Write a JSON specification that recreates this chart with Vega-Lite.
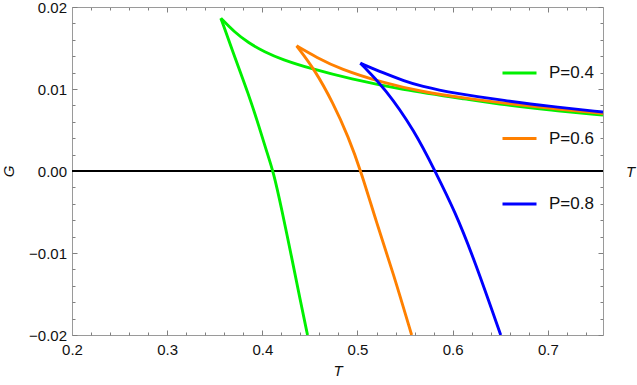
{
  "$schema": "https://vega.github.io/schema/vega-lite/v6.json",
  "width": 531,
  "height": 328,
  "autosize": {"type": "none"},
  "padding": {"left": 72, "top": 7, "right": 34, "bottom": 50},
  "background": "white",
  "config": {
    "view": {"stroke": null},
    "axis": {
      "grid": false,
      "zindex": 1,
      "domainColor": "#9a9a9a",
      "tickColor": "#808080",
      "tickWidth": 1,
      "labelFont": "Liberation Sans",
      "labelFontSize": 15,
      "labelColor": "#111111",
      "titleFont": "Liberation Sans",
      "titleFontSize": 15,
      "titleFontWeight": "normal",
      "titleFontStyle": "italic",
      "titleColor": "#111111"
    }
  },
  "data": {
    "values": [
      {"P": "P=0.4", "b": "lo", "T": 0.3564, "G": 0.01864},
      {"P": "P=0.4", "b": "lo", "T": 0.3721, "G": 0.01356},
      {"P": "P=0.4", "b": "lo", "T": 0.3851, "G": 0.0095},
      {"P": "P=0.4", "b": "lo", "T": 0.3966, "G": 0.00543},
      {"P": "P=0.4", "b": "lo", "T": 0.405, "G": 0.00219},
      {"P": "P=0.4", "b": "lo", "T": 0.4114, "G": 0.0},
      {"P": "P=0.4", "b": "lo", "T": 0.4205, "G": -0.00471},
      {"P": "P=0.4", "b": "lo", "T": 0.4313, "G": -0.0108},
      {"P": "P=0.4", "b": "lo", "T": 0.4397, "G": -0.01568},
      {"P": "P=0.4", "b": "lo", "T": 0.4475, "G": -0.02},
      {"P": "P=0.4", "b": "hi", "T": 0.3564, "G": 0.01864},
      {"P": "P=0.4", "b": "hi", "T": 0.3711, "G": 0.0169},
      {"P": "P=0.4", "b": "hi", "T": 0.3851, "G": 0.01565},
      {"P": "P=0.4", "b": "hi", "T": 0.4026, "G": 0.0145},
      {"P": "P=0.4", "b": "hi", "T": 0.4202, "G": 0.01362},
      {"P": "P=0.4", "b": "hi", "T": 0.4534, "G": 0.0124},
      {"P": "P=0.4", "b": "hi", "T": 0.492, "G": 0.01125},
      {"P": "P=0.4", "b": "hi", "T": 0.5446, "G": 0.00995},
      {"P": "P=0.4", "b": "hi", "T": 0.6182, "G": 0.0087},
      {"P": "P=0.4", "b": "hi", "T": 0.655, "G": 0.00806},
      {"P": "P=0.4", "b": "hi", "T": 0.7023, "G": 0.00743},
      {"P": "P=0.4", "b": "hi", "T": 0.758, "G": 0.00682},
      {"P": "P=0.6", "b": "lo", "T": 0.436, "G": 0.01526},
      {"P": "P=0.6", "b": "lo", "T": 0.4552, "G": 0.01234},
      {"P": "P=0.6", "b": "lo", "T": 0.4744, "G": 0.00828},
      {"P": "P=0.6", "b": "lo", "T": 0.4904, "G": 0.00418},
      {"P": "P=0.6", "b": "lo", "T": 0.5036, "G": 0.0},
      {"P": "P=0.6", "b": "lo", "T": 0.5201, "G": -0.00633},
      {"P": "P=0.6", "b": "lo", "T": 0.5375, "G": -0.01242},
      {"P": "P=0.6", "b": "lo", "T": 0.5569, "G": -0.02},
      {"P": "P=0.6", "b": "hi", "T": 0.436, "G": 0.01526},
      {"P": "P=0.6", "b": "hi", "T": 0.457, "G": 0.01385},
      {"P": "P=0.6", "b": "hi", "T": 0.4815, "G": 0.01245},
      {"P": "P=0.6", "b": "hi", "T": 0.527, "G": 0.01075},
      {"P": "P=0.6", "b": "hi", "T": 0.5656, "G": 0.0097},
      {"P": "P=0.6", "b": "hi", "T": 0.6182, "G": 0.0088},
      {"P": "P=0.6", "b": "hi", "T": 0.655, "G": 0.00826},
      {"P": "P=0.6", "b": "hi", "T": 0.7023, "G": 0.00763},
      {"P": "P=0.6", "b": "hi", "T": 0.758, "G": 0.00702},
      {"P": "P=0.8", "b": "lo", "T": 0.503, "G": 0.01315},
      {"P": "P=0.8", "b": "lo", "T": 0.5288, "G": 0.01011},
      {"P": "P=0.8", "b": "lo", "T": 0.5604, "G": 0.00482},
      {"P": "P=0.8", "b": "lo", "T": 0.5814, "G": 0.0},
      {"P": "P=0.8", "b": "lo", "T": 0.6024, "G": -0.00492},
      {"P": "P=0.8", "b": "lo", "T": 0.6234, "G": -0.01101},
      {"P": "P=0.8", "b": "lo", "T": 0.6505, "G": -0.02},
      {"P": "P=0.8", "b": "hi", "T": 0.503, "G": 0.01315},
      {"P": "P=0.8", "b": "hi", "T": 0.527, "G": 0.01196},
      {"P": "P=0.8", "b": "hi", "T": 0.5498, "G": 0.01096},
      {"P": "P=0.8", "b": "hi", "T": 0.5656, "G": 0.01038},
      {"P": "P=0.8", "b": "hi", "T": 0.6024, "G": 0.00945},
      {"P": "P=0.8", "b": "hi", "T": 0.655, "G": 0.00858},
      {"P": "P=0.8", "b": "hi", "T": 0.7023, "G": 0.00787},
      {"P": "P=0.8", "b": "hi", "T": 0.758, "G": 0.00719}
    ]
  },
  "layer": [
    {
      "mark": {"type": "rule", "color": "black", "strokeWidth": 1},
      "encoding": {
        "y": {"datum": 0, "type": "quantitative", "scale": {"domain": [-0.02, 0.02], "nice": false, "zero": false}, "axis": null}
      }
    },
    {
      "mark": {"type": "line", "strokeWidth": 2.9, "interpolate": "basis", "clip": true},
      "encoding": {
        "x": {
          "field": "T", "type": "quantitative",
          "scale": {"domain": [0.2, 0.758], "nice": false, "zero": false},
          "axis": {
            "orient": "bottom",
            "values": [0.2, 0.3, 0.4, 0.5, 0.6, 0.7],
            "format": ".1f",
            "ticks": false,
            "labelPadding": 7.5,
            "labelFlush": false,
            "labelOverlap": false,
            "title": "T",
            "titleY": 40,
            "titleBaseline": "alphabetic"
          }
        },
        "y": {
          "field": "G", "type": "quantitative",
          "scale": {"domain": [-0.02, 0.02], "nice": false, "zero": false},
          "axis": {
            "orient": "left",
            "values": [-0.02, -0.01, 0, 0.01, 0.02],
            "format": ".2f",
            "ticks": false,
            "labelPadding": 5.5,
            "labelFlush": false,
            "labelOverlap": false,
            "title": "G",
            "titleAngle": -90,
            "titleX": -59,
            "titleY": 164,
            "titleAlign": "center",
            "titleBaseline": "alphabetic"
          }
        },
        "color": {
          "field": "P", "type": "nominal",
          "scale": {"domain": ["P=0.4", "P=0.6", "P=0.8"], "range": ["#00f000", "#ff8000", "#0000ff"]},
          "legend": {
            "orient": "none",
            "legendX": 429,
            "legendY": 56,
            "title": null,
            "padding": 0,
            "symbolType": "stroke",
            "symbolSize": 1156,
            "symbolStrokeWidth": 3,
            "labelFont": "Liberation Sans",
            "labelFontSize": 17,
            "labelColor": "#111111",
            "labelOffset": 11,
            "clipHeight": 20,
            "rowPadding": 45.5
          }
        },
        "detail": {"field": "b"}
      }
    },
    {
      "mark": {"type": "point", "opacity": 0},
      "encoding": {
        "x": {
          "field": "T", "type": "quantitative",
          "axis": {"orient": "bottom", "values": [0.2, 0.3, 0.4, 0.5, 0.6, 0.7], "labels": false, "domain": false, "ticks": true, "tickSize": -5, "title": null}
        },
        "y": {
          "field": "G", "type": "quantitative",
          "axis": {"orient": "left", "values": [-0.02, -0.01, 0, 0.01, 0.02], "labels": false, "domain": false, "ticks": true, "tickSize": -5, "title": null}
        }
      }
    },
    {
      "mark": {"type": "point", "opacity": 0},
      "encoding": {
        "x": {
          "field": "T", "type": "quantitative",
          "axis": {"orient": "bottom", "values": [0.22,0.24,0.26,0.28,0.32,0.34,0.36,0.38,0.42,0.44,0.46,0.48,0.52,0.54,0.56,0.58,0.62,0.64,0.66,0.68,0.72,0.74], "labels": false, "domain": false, "ticks": true, "tickSize": -3, "title": null}
        },
        "y": {
          "field": "G", "type": "quantitative",
          "axis": {"orient": "left", "values": [-0.018,-0.016,-0.014,-0.012,-0.008,-0.006,-0.004,-0.002,0.002,0.004,0.006,0.008,0.012,0.014,0.016,0.018], "labels": false, "domain": false, "ticks": true, "tickSize": -3, "title": null}
        }
      }
    },
    {
      "mark": {"type": "point", "opacity": 0},
      "encoding": {
        "x": {
          "field": "T", "type": "quantitative",
          "axis": {"orient": "top", "values": [0.2, 0.3, 0.4, 0.5, 0.6, 0.7], "labels": false, "domain": false, "ticks": true, "tickSize": -5, "title": null}
        },
        "y": {
          "field": "G", "type": "quantitative",
          "axis": {"orient": "right", "values": [-0.02, -0.01, 0, 0.01, 0.02], "labels": false, "domain": false, "ticks": true, "tickSize": -5, "title": null}
        }
      }
    },
    {
      "mark": {"type": "point", "opacity": 0},
      "encoding": {
        "x": {
          "field": "T", "type": "quantitative",
          "axis": {"orient": "top", "values": [0.22,0.24,0.26,0.28,0.32,0.34,0.36,0.38,0.42,0.44,0.46,0.48,0.52,0.54,0.56,0.58,0.62,0.64,0.66,0.68,0.72,0.74], "labels": false, "domain": false, "ticks": true, "tickSize": -3, "title": null}
        },
        "y": {
          "field": "G", "type": "quantitative",
          "axis": {"orient": "right", "values": [-0.018,-0.016,-0.014,-0.012,-0.008,-0.006,-0.004,-0.002,0.002,0.004,0.006,0.008,0.012,0.014,0.016,0.018], "labels": false, "domain": false, "ticks": true, "tickSize": -3, "title": null}
        }
      }
    },
    {
      "mark": {"type": "point", "opacity": 0},
      "encoding": {
        "x": {
          "field": "T", "type": "quantitative",
          "axis": {"orient": "top", "labels": false, "ticks": false, "domain": true, "title": null}
        },
        "y": {
          "field": "G", "type": "quantitative",
          "axis": {
            "orient": "right", "labels": false, "ticks": false, "domain": true,
            "title": "T", "titleAngle": 0, "titleX": 27, "titleY": 164, "titleAlign": "center", "titleBaseline": "middle"
          }
        }
      }
    }
  ],
  "resolve": {"axis": {"x": "independent", "y": "independent"}}
}
